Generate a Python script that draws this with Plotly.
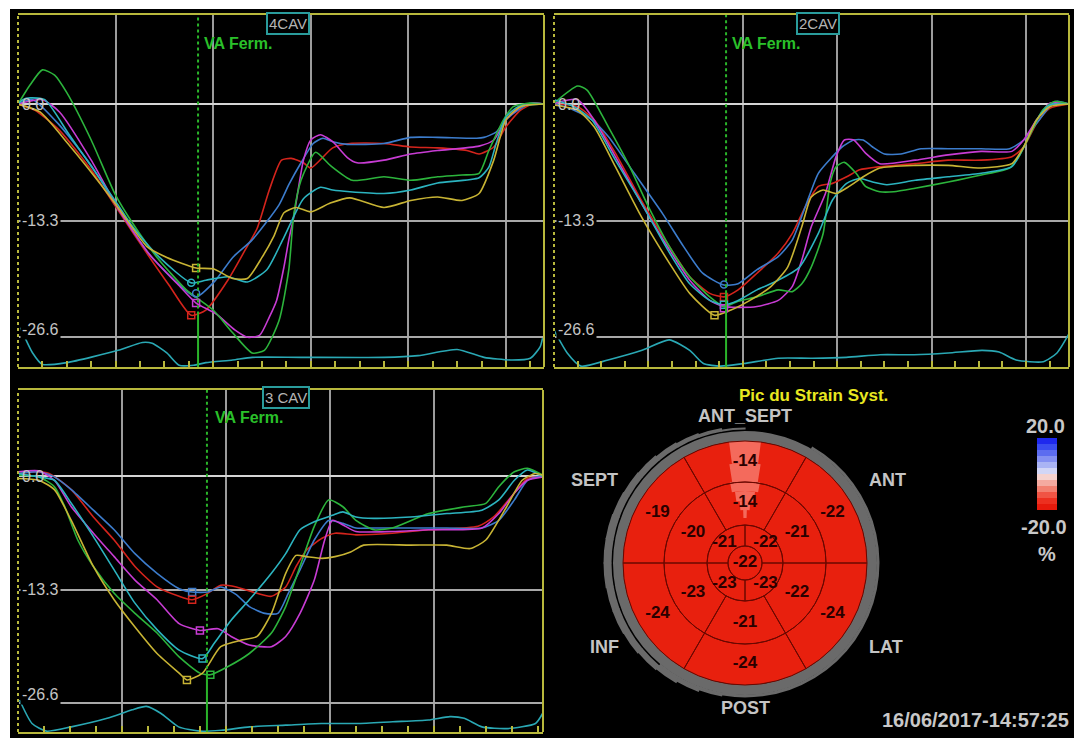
import plotly.graph_objects as go

W, H = 1074, 738
FONT = "Liberation Sans, Arial, sans-serif"

# ---------- strain curves: (time in frame ticks, longitudinal strain %) ----------
# 4 chamber view
cav4_red = [(0, 0), (0.7, -0.7), (1.7, -3.0), (3.0, -7.5), (4.1, -12.1), (5.2, -16.7), (6.2, -20.7),
            (7.1, -24.1), (7.7, -23.5), (8.6, -20.1), (9.3, -16.7), (9.8, -14.2), (10.3, -9.8),
            (10.8, -6.4), (11.2, -6.2), (11.7, -6.7), (12.0, -7.3), (12.9, -5.0), (13.6, -4.5),
            (15.0, -4.5), (16.1, -4.9), (17.2, -5.0), (18.4, -5.3), (18.9, -5.7), (19.5, -4.9),
            (20.0, -2.6), (20.6, -0.7), (21.1, 0), (21.56, 0)]
cav4_blue = [(0, 0), (0.6, 0.5), (1.7, -2.4), (3.0, -7.0), (4.1, -11.9), (5.4, -17.2), (6.4, -20.1),
             (7.3, -22.0), (8.1, -20.1), (8.8, -17.5), (9.6, -15.5), (10.7, -11.5), (11.1, -9.2),
             (11.6, -6.7), (12.1, -4.5), (12.5, -3.9), (12.9, -4.3), (13.5, -4.6), (15.0, -4.5),
             (16.1, -3.8), (17.2, -3.8), (18.8, -3.9), (19.1, -3.8), (19.6, -3.2), (20.0, -1.8),
             (20.5, -0.7), (21.0, 0.1), (21.56, 0)]
cav4_magenta = [(0, 0), (1.0, 0.5), (1.7, -0.9), (3.0, -6.4), (4.1, -11.9), (5.4, -17.2), (6.6, -20.7),
                (7.3, -22.7), (8.1, -23.9), (8.9, -25.8), (9.4, -26.6), (9.9, -26.4), (10.3, -24.3),
                (10.6, -22.4), (10.9, -18.6), (11.1, -15.5), (11.3, -12.9), (11.7, -6.4), (12.0, -4.1),
                (12.4, -3.5), (12.9, -4.3), (13.5, -6.1), (13.9, -6.7), (15.0, -6.4), (16.1, -5.7),
                (17.2, -5.3), (18.9, -4.8), (19.5, -4.1), (20.0, -1.8), (20.6, -0.3), (21.1, 0.1), (21.56, 0)]
cav4_green = [(0, 0), (0.5, 2.2), (1.0, 3.9), (1.5, 3.3), (2.0, 1.3), (3.0, -4.1), (4.0, -10.4),
              (4.7, -13.6), (5.7, -17.5), (6.9, -21.2), (8.0, -23.5), (8.8, -26.1), (9.6, -28.4),
              (10.1, -28.1), (10.7, -24.7), (11.1, -18.9), (11.3, -12.7), (11.6, -8.7), (12.2, -5.5),
              (12.8, -7.0), (13.7, -8.7), (15.0, -8.3), (16.1, -8.7), (17.2, -8.3), (18.2, -8.1),
              (18.9, -7.9), (19.3, -5.3), (19.9, -1.8), (20.3, -0.3), (20.9, 0.1), (21.56, 0)]
cav4_cyan = [(0, 0), (0.2, 0.5), (0.5, 0.7), (1.1, 0.5), (2.1, -3.5), (3.4, -8.7), (4.1, -11.5),
             (4.7, -14.0), (5.8, -17.5), (7.1, -20.4), (7.7, -20.1), (8.6, -19.7), (9.4, -20.3),
             (10.2, -18.9), (10.9, -15.2), (11.7, -10.8), (12.4, -9.5), (12.9, -9.8), (13.6, -10.0),
             (15.0, -10.2), (16.1, -9.8), (17.2, -9.0), (18.9, -8.4), (19.3, -7.2), (19.6, -4.5),
             (20.0, -1.5), (20.5, -0.3), (21.56, 0)]
cav4_yellow = [(0, 0), (0.9, -0.9), (2.1, -4.7), (3.4, -9.2), (4.1, -11.8), (5.3, -16.3), (6.1, -17.5),
               (7.3, -18.7), (8.0, -18.8), (8.8, -19.9), (9.4, -19.9), (10.0, -17.5), (10.5, -15.0),
               (10.9, -12.4), (11.4, -11.8), (12.0, -12.3), (12.8, -11.3), (13.6, -10.7), (15.0, -11.8),
               (16.1, -11.0), (17.2, -10.6), (18.2, -11.0), (18.9, -10.2), (19.5, -6.4), (20.0, -1.8),
               (20.6, -0.3), (21.56, 0)]
cav4_ecg = [(0.1, -25.5), (0.6, -28.4), (1.0, -29.7), (2.0, -29.5), (4.1, -28.1), (5.1, -27.2),
            (5.5, -27.3), (6.1, -28.4), (6.6, -29.8), (7.2, -29.8), (7.7, -29.5), (8.8, -29.2),
            (9.6, -28.9), (11.6, -28.9), (15.0, -28.9), (16.4, -28.7), (18.0, -28.0), (19.1, -28.9),
            (20.2, -29.2), (21.0, -29.0), (21.4, -27.7), (21.5, -26.7)]
cav4_peaks = [("red", 7.1, -24.1, "square-open"), ("magenta", 7.3, -22.7, "square-open"),
              ("blue", 7.3, -21.6, "circle-open"), ("cyan", 7.1, -20.4, "circle-open"),
              ("yellow", 7.3, -18.7, "square-open")]

# 2 chamber view
cav2_red = [(0, 0), (1.0, -0.3), (1.7, -1.8), (2.6, -5.6), (3.7, -11.0), (4.9, -16.3), (5.75, -19.7),
            (6.6, -21.6), (7.2, -22.0), (7.8, -21.2), (8.6, -19.3), (9.5, -17.0), (10.1, -14.75),
            (10.65, -11.7), (11.2, -9.4), (11.8, -9.05), (12.4, -8.3), (12.95, -7.5), (13.8, -7.15),
            (15.3, -6.8), (16.7, -6.4), (18.1, -6.4), (19.4, -6.0), (19.9, -4.9), (20.45, -2.2),
            (21.0, -0.5), (21.82, 0)]
cav2_blue = [(0, 0.1), (0.85, -0.7), (1.6, -1.8), (2.3, -3.7), (3.4, -7.9), (4.6, -12.5), (5.5, -16.3),
             (6.3, -19.3), (7.2, -20.65), (7.8, -20.5), (8.6, -18.9), (9.5, -17.4), (10.1, -15.5),
             (10.65, -11.7), (11.2, -7.9), (11.8, -6.0), (12.2, -4.9), (12.7, -4.1), (13.1, -4.1),
             (13.5, -4.9), (14.0, -5.7), (14.7, -5.7), (15.55, -5.1), (16.7, -5.1), (18.1, -5.1),
             (19.3, -5.1), (19.9, -4.1), (20.45, -2.2), (21.0, -0.3), (21.3, 0.3), (21.82, 0)]
cav2_magenta = [(0, 0.1), (1.0, 0.5), (1.7, -1.8), (2.6, -6.0), (3.7, -11.3), (4.9, -16.65), (5.75, -20.1),
                (6.6, -22.4), (7.2, -23.1), (7.8, -23.2), (8.6, -23.1), (9.5, -22.4), (10.1, -20.8),
                (10.5, -17.8), (10.9, -14.0), (11.5, -10.2), (11.95, -6.0), (12.3, -4.1), (12.7, -4.1),
                (13.2, -5.6), (13.8, -6.8), (15.3, -6.4), (16.7, -5.8), (18.1, -5.4), (19.4, -5.4),
                (19.9, -4.1), (20.45, -1.8), (21.0, 0.1), (21.82, 0)]
cav2_green = [(0, 0.1), (1.0, 2.05), (1.4, 1.6), (2.3, -2.6), (3.2, -7.1), (4.0, -11.7), (4.9, -16.3),
              (5.75, -19.7), (6.6, -22.0), (7.2, -23.1), (7.8, -22.5), (8.6, -22.0), (9.5, -21.2),
              (10.1, -21.4), (10.5, -20.5), (10.9, -18.6), (11.4, -14.8), (11.7, -9.0), (11.95, -7.15),
              (12.3, -6.65), (12.8, -7.9), (13.2, -9.4), (13.8, -10.0), (14.4, -10.0), (15.3, -9.6),
              (16.7, -8.9), (18.1, -8.1), (19.3, -7.3), (19.7, -6.0), (20.2, -3.35), (20.7, -0.7),
              (21.2, 0.3), (21.82, 0)]
cav2_cyan = [(0, 0.5), (0.85, -0.3), (1.6, -1.8), (2.6, -6.4), (3.7, -11.3), (4.9, -17.0), (5.75, -20.5),
             (6.6, -22.4), (7.2, -22.9), (7.8, -22.4), (8.6, -21.2), (9.5, -20.1), (10.4, -18.6),
             (11.2, -14.75), (11.8, -10.95), (12.4, -9.05), (12.95, -8.5), (13.5, -8.9), (14.1, -9.2),
             (15.3, -8.7), (16.7, -8.3), (18.1, -7.9), (19.4, -7.15), (19.9, -4.9), (20.45, -1.8),
             (21.0, -0.1), (21.82, 0)]
cav2_yellow = [(0, -0.1), (1.0, -0.7), (1.7, -2.6), (2.6, -7.15), (3.7, -12.85), (4.9, -18.2),
               (5.75, -21.6), (6.8, -24.1), (7.5, -23.5), (8.3, -22.4), (9.2, -20.8), (9.9, -18.6),
               (10.5, -14.0), (10.9, -10.6), (11.4, -9.8), (11.95, -10.2), (12.5, -9.4), (13.1, -8.3),
               (13.8, -7.3), (15.3, -7.0), (16.7, -7.0), (18.1, -7.3), (19.4, -6.8), (19.9, -4.9),
               (20.45, -1.8), (21.0, -0.3), (21.82, 0)]
cav2_ecg = [(0, -25.8), (0.56, -28.4), (1.14, -29.9), (2.29, -29.2), (3.73, -28.1), (4.88, -26.9),
            (5.75, -28.1), (6.33, -29.6), (7.05, -29.9), (8.05, -29.6), (9.5, -29.0), (10.94, -29.0),
            (12.38, -28.9), (13.82, -28.6), (15.26, -28.6), (16.7, -28.4), (18.14, -28.1),
            (18.86, -28.3), (19.58, -29.2), (20.73, -29.4), (21.31, -28.4), (21.82, -26.2)]
cav2_peaks = [("blue", 7.2, -20.6, "circle-open"), ("red", 7.2, -22.0, "square-open"),
              ("cyan", 7.2, -22.9, "square-open"), ("magenta", 7.2, -23.3, "square-open"),
              ("yellow", 6.8, -24.1, "square-open")]

# 3 chamber view
cav3_red = [(0, 0.3), (0.7, 0.5), (1.2, 0.3), (2.05, -1.6), (2.9, -4.8), (3.7, -7.5), (4.5, -10.6),
            (5.35, -13.0), (6.2, -14.1), (6.7, -14.5), (7.3, -13.75), (7.8, -12.8), (8.4, -13.0),
            (9.2, -13.75), (9.75, -14.1), (10.3, -13.0), (10.7, -10.6), (11.1, -8.7), (11.7, -7.3),
            (12.2, -6.7), (13.0, -6.9), (14.4, -6.7), (15.8, -6.3), (17.7, -5.9), (18.3, -4.8),
            (19.1, -2.0), (19.6, -0.3), (20.2, -0.1)]
cav3_blue = [(0, 0.3), (0.8, 0.5), (1.4, -0.1), (2.05, -1.6), (2.9, -4.0), (3.7, -6.3), (4.5, -9.1),
             (5.35, -11.4), (6.2, -13.2), (6.7, -13.6), (7.3, -13.6), (7.8, -13.0), (8.4, -13.9),
             (8.9, -15.3), (9.5, -16.1), (10.0, -16.1), (10.4, -13.75), (10.85, -11.0), (11.4, -7.5),
             (11.95, -5.2), (12.5, -5.55), (13.0, -6.1), (13.7, -6.1), (15.1, -6.1), (16.5, -6.1),
             (17.85, -6.1), (18.5, -5.2), (19.1, -2.8), (19.6, -0.5), (20.2, 0.1)]
cav3_magenta = [(0, 0.5), (0.8, 0.6), (1.4, -0.5), (2.05, -3.6), (2.9, -6.7), (3.7, -9.45), (4.5, -12.2),
                (5.35, -14.5), (6.2, -17.3), (7.0, -18.1), (7.7, -17.9), (8.2, -18.8), (8.9, -19.8),
                (9.75, -20.0), (10.3, -18.8), (10.85, -16.1), (11.4, -12.2), (11.8, -7.5), (12.1, -5.2),
                (12.6, -5.9), (13.0, -6.5), (14.4, -6.5), (15.8, -6.3), (17.85, -6.1), (18.5, -4.4),
                (19.1, -2.0), (19.6, -0.5), (20.2, -0.1)]
cav3_green = [(0, 0.1), (0.8, -0.1), (1.4, -1.25), (1.8, -3.6), (2.3, -7.5), (2.9, -10.6), (3.7, -13.75),
              (4.5, -16.1), (5.35, -18.4), (6.2, -21.2), (7.0, -23.1), (7.4, -23.3), (8.1, -22.3),
              (8.9, -20.8), (9.75, -18.4), (10.3, -15.3), (10.85, -10.6), (11.4, -5.9), (11.95, -2.8),
              (12.5, -3.6), (13.0, -5.2), (13.7, -6.3), (14.4, -6.1), (15.8, -4.4), (17.2, -3.6),
              (18.0, -3.2), (18.5, -1.25), (19.1, 0.5), (19.6, 0.9), (20.2, 0.1)]
cav3_cyan = [(0, 0.3), (0.8, -0.1), (1.4, -0.5), (2.05, -3.2), (2.9, -7.1), (3.7, -11.0), (4.5, -14.9),
             (5.35, -18.0), (6.2, -20.4), (7.1, -21.4), (7.55, -19.6), (8.2, -16.9), (8.9, -14.5),
             (9.75, -11.4), (10.3, -9.1), (10.85, -6.3), (11.4, -5.35), (12.1, -4.6), (12.5, -4.2),
             (13.0, -4.8), (13.7, -4.96), (15.1, -4.8), (16.5, -4.4), (17.85, -4.0), (18.5, -2.8),
             (19.1, -0.5), (19.6, 0.7), (20.2, -0.1)]
cav3_yellow = [(0, -0.3), (0.8, -0.5), (1.4, -1.6), (2.05, -5.2), (2.9, -10.6), (3.7, -14.5), (4.5, -17.7),
               (5.35, -20.8), (6.2, -23.1), (6.5, -23.9), (7.1, -23.1), (7.8, -20.0), (8.65, -19.2),
               (9.2, -18.8), (9.75, -16.1), (10.3, -11.4), (10.7, -9.3), (11.1, -9.45), (11.7, -9.65),
               (12.2, -9.45), (12.8, -8.9), (13.3, -8.1), (15.1, -8.1), (16.5, -8.1), (17.4, -8.5),
               (18.0, -7.5), (18.8, -3.6), (19.4, -0.5), (19.9, 0.3), (20.2, 0.1)]
cav3_ecg = [(0.06, -26.25), (0.54, -29.0), (1.09, -29.9), (2.05, -29.4), (3.43, -28.4), (4.39, -27.4),
            (4.94, -27.0), (5.49, -27.8), (6.18, -29.4), (7.0, -29.9), (7.82, -29.8), (8.92, -29.4),
            (10.3, -29.2), (11.67, -29.0), (13.04, -29.0), (14.42, -28.8), (15.79, -28.6),
            (16.62, -28.2), (17.17, -28.4), (17.85, -29.4), (18.82, -29.6), (19.91, -29.0), (20.19, -27.8)]
cav3_peaks = [("blue", 6.7, -13.6, "square-open"), ("red", 6.7, -14.5, "square-open"),
              ("magenta", 7.0, -18.1, "square-open"), ("cyan", 7.1, -21.4, "square-open"),
              ("yellow", 6.5, -23.9, "square-open"), ("green", 7.4, -23.3, "square-open")]

view_names = ["4CAV", "2CAV", "3 CAV"]
va_close = [7.38, 7.29, 7.27]          # aortic valve closure (frame ticks)
va_solid_from = [-24.0, -21.6, -23.3]  # strain where the marker becomes solid
strain_ticks = [0.0, -13.3, -26.6]
strain_labels = ["0.0", "-13.3", "-26.6"]

# ---------- bull's eye (peak systolic strain %) ----------
seg_basal_theta = [90, 30, -30, -90, -150, 150]
seg_basal_vals = [-14, -22, -24, -24, -24, -19]
seg_mid_vals = [-14, -21, -22, -21, -23, -20]
seg_apical_theta = [45, 135, 225, 315]
seg_apical_vals = [-22, -21, -23, -23]
seg_apex_val = -22
wall_names = ["ANT_SEPT", "SEPT", "ANT", "INF", "LAT", "POST"]

cbar_levels = [20, 16.36, 12.73, 9.09, 5.45, 1.82, -1.82, -5.45, -9.09, -12.73, -16.36, -20]
cbar_colors = ["#1e28ee", "#3a4cf0", "#5c6cf0", "#8490f2", "#aab4f4", "#d2d6f6",
               "#f6d2ce", "#f4aaa0", "#f28070", "#f05444", "#ec3020", "#e61a0c"]

# ---------- styling ----------
curve_colors = {"red": "#d4241c", "blue": "#3c7ccc", "magenta": "#c83cd4",
                "green": "#2cb43c", "cyan": "#2cb4c0", "yellow": "#c8b434"}
ecg_color = "#2aa8b4"
yellow = "#b8b83c"
va_green = "#2ab42a"
seg_red = "#e8200e"
seg_line = "#6a0800"
salmon = "#f46a5c"
ring_gray = "#6a6a6a"

frames = [
    dict(x0=18, x1=544, y0=15, y1=367, tmax=21.56, smin=-30.0, smax=10.16, box=(288, 24), va_txt=(202, 43)),
    dict(x0=554, x1=1069, y0=15, y1=367, tmax=21.82, smin=-30.0, smax=10.16, box=(818, 24), va_txt=(730, 43)),
    dict(x0=18, x1=543, y0=390, y1=732, tmax=20.2, smin=-30.0, smax=10.08, box=(286, 397), va_txt=(213, 417)),
]
views = [
    ({"red": cav4_red, "blue": cav4_blue, "magenta": cav4_magenta, "green": cav4_green,
      "cyan": cav4_cyan, "yellow": cav4_yellow}, cav4_ecg, cav4_peaks),
    ({"red": cav2_red, "blue": cav2_blue, "magenta": cav2_magenta, "green": cav2_green,
      "cyan": cav2_cyan, "yellow": cav2_yellow}, cav2_ecg, cav2_peaks),
    ({"red": cav3_red, "blue": cav3_blue, "magenta": cav3_magenta, "green": cav3_green,
      "cyan": cav3_cyan, "yellow": cav3_yellow}, cav3_ecg, cav3_peaks),
]


def px(x):
    return x / W


def py(y):
    return 1 - y / H


def ann(text, x, y, size=16, color="#c8c8c8", bold=True, xanchor="center", **kw):
    return dict(text=text, x=px(x), y=py(y), xref="paper", yref="paper", showarrow=False,
                xanchor=xanchor, yanchor="middle",
                font=dict(family=FONT, size=size, color=color, weight="bold" if bold else "normal"), **kw)


fig = go.Figure()
annotations = []
shapes = [dict(type="rect", xref="paper", yref="paper", x0=px(10), x1=1, y0=0, y1=py(9),
               fillcolor="black", line=dict(width=0), layer="below")]
layout_axes = {}

for i, (fr, (curves, ecg, peaks)) in enumerate(zip(frames, views), start=1):
    sfx = "" if i == 1 else str(i)
    xa, ya = "x" + sfx, "y" + sfx

    fig.add_trace(go.Scatter(x=[p[0] for p in ecg], y=[p[1] for p in ecg], mode="lines",
                             line=dict(color=ecg_color, width=1.6, shape="spline", smoothing=0.6),
                             xaxis=xa, yaxis=ya, showlegend=False, hoverinfo="skip"))
    for cname, pts in curves.items():
        fig.add_trace(go.Scatter(x=[p[0] for p in pts], y=[p[1] for p in pts], mode="lines",
                                 line=dict(color=curve_colors[cname], width=1.6, shape="spline", smoothing=0.6),
                                 xaxis=xa, yaxis=ya, showlegend=False, hoverinfo="skip"))
    for cname, t, s, sym in peaks:
        fig.add_trace(go.Scatter(x=[t], y=[s], mode="markers",
                                 marker=dict(symbol=sym, size=7, color=curve_colors[cname], line=dict(width=1.5)),
                                 xaxis=xa, yaxis=ya, showlegend=False, hoverinfo="skip"))

    layout_axes["xaxis" + sfx] = dict(
        domain=[px(fr["x0"]), px(fr["x1"])], range=[0, fr["tmax"]], anchor=ya,
        tickmode="array", tickvals=[v for v in (4, 8, 12, 16, 20) if v < fr["tmax"] - 0.4],
        ticks="inside", ticklen=6, tickwidth=1.5, tickcolor=yellow, showticklabels=False,
        showgrid=True, gridcolor="#9c9c9c", gridwidth=1.5, zeroline=False,
        showline=True, linecolor=yellow, linewidth=2, mirror=True,
        minor=dict(dtick=1, tick0=0, ticks="inside", ticklen=6, tickwidth=1.5, tickcolor=yellow, showgrid=False))
    layout_axes["yaxis" + sfx] = dict(
        domain=[py(fr["y1"]), py(fr["y0"])], range=[fr["smin"], fr["smax"]], anchor=xa,
        tickmode="array", tickvals=strain_ticks[1:], showgrid=True, gridcolor="#a8a8a8", gridwidth=1.5,
        zeroline=True, zerolinecolor="#d4d4d4", zerolinewidth=2, showticklabels=False, ticks="",
        showline=False)

    # frame edges: dotted left, solid right
    shapes.append(dict(type="line", xref=xa + " domain", yref=ya + " domain", x0=0, x1=0, y0=0, y1=1,
                       line=dict(color="black", width=2)))
    shapes.append(dict(type="line", xref=xa + " domain", yref=ya + " domain", x0=0, x1=0, y0=0, y1=1,
                       line=dict(color=yellow, width=2, dash="dot")))
    shapes.append(dict(type="line", xref=xa + " domain", yref=ya + " domain", x0=1, x1=1, y0=0, y1=1,
                       line=dict(color=yellow, width=2)))
    # valve closure marker
    shapes.append(dict(type="line", xref=xa, yref=ya, x0=va_close[i - 1], x1=va_close[i - 1],
                       y0=va_solid_from[i - 1], y1=fr["smax"], line=dict(color=va_green, width=2, dash="dot")))
    shapes.append(dict(type="line", xref=xa, yref=ya, x0=va_close[i - 1], x1=va_close[i - 1],
                       y0=fr["smin"], y1=va_solid_from[i - 1], line=dict(color=va_green, width=2)))

    # strain tick labels inside the plot
    for val, lab in zip(strain_ticks, strain_labels):
        annotations.append(dict(text=lab, x=px(fr["x0"] + 2), y=val, xref="paper", yref=ya,
                                xanchor="left", yanchor="middle", showarrow=False,
                                yshift=8 if val < -20 else 0,
                                bgcolor="black" if val < 0 else None,
                                font=dict(family=FONT, size=16, color="#c4c4c4")))
    bx, by = fr["box"]
    annotations.append(ann(view_names[i - 1], bx, by, size=15, color="#b4b4b4", bold=False,
                           bgcolor="black", bordercolor="#2a9c9c", borderwidth=2, borderpad=1))
    vx, vy = fr["va_txt"]
    annotations.append(ann("VA Ferm.", vx, vy, size=16, color="#2ac02a", xanchor="left"))

# ---------- bull's eye ----------
mid_theta = seg_basal_theta
fig.add_trace(go.Barpolar(r=[10], base=[122], theta=[0], width=[360],
                          marker=dict(color=ring_gray, line=dict(width=0)), showlegend=False, hoverinfo="skip"))
# the lower / right part of the rim is slightly wider
fig.add_trace(go.Barpolar(r=[3], base=[131.5], theta=[-35], width=[190],
                          marker=dict(color=ring_gray, line=dict(width=0)), showlegend=False, hoverinfo="skip"))
crescent_theta = [95, 105, 115, 125, 135, 145, 155, 165, 175, 185, 195, 205, 215, 225, 235, 245, 255]
crescent_thick = [2, 3.5, 4.5, 5.5, 6.5, 7, 7.5, 8, 8, 8, 7.5, 7.5, 7, 6, 5, 3.5, 2]
fig.add_trace(go.Barpolar(r=crescent_thick, base=[133.5] * len(crescent_theta), theta=crescent_theta,
                          width=[10.5] * len(crescent_theta),
                          marker=dict(color=ring_gray, line=dict(width=0)), showlegend=False, hoverinfo="skip"))

seg_r = [41] * 6 + [43] * 6 + [21] * 4 + [17]
seg_base = [81] * 6 + [38] * 6 + [17] * 4 + [0]
seg_theta = seg_basal_theta + mid_theta + seg_apical_theta + [0]
seg_width = [60] * 12 + [90] * 4 + [360]
fig.add_trace(go.Barpolar(r=seg_r, base=seg_base, theta=seg_theta, width=seg_width,
                          marker=dict(color=seg_red, line=dict(width=0)), showlegend=False, hoverinfo="skip"))
# lighter anteroseptal strip (-14 %)
strip_base = [100, 81, 72, 62, 53, 45]
strip_thick = [22, 19, 10, 10, 9, 8]
strip_width = [15, 18, 21, 16, 10, 4]
fig.add_trace(go.Barpolar(r=strip_thick, base=strip_base, theta=[90] * len(strip_base), width=strip_width,
                          marker=dict(color=salmon, line=dict(width=0)), showlegend=False, hoverinfo="skip"))
fig.add_trace(go.Barpolar(r=seg_r, base=seg_base, theta=seg_theta, width=seg_width,
                          marker=dict(color="rgba(0,0,0,0)", line=dict(color=seg_line, width=1)),
                          showlegend=False, hoverinfo="skip"))
be_vals = seg_basal_vals + seg_mid_vals + seg_apical_vals + [seg_apex_val]
fig.add_trace(go.Scatterpolar(r=[101] * 6 + [60] * 6 + [29] * 4 + [0], theta=seg_theta[:16] + [0],
                              mode="text", text=[str(v) for v in be_vals],
                              textfont=dict(family=FONT, size=17, color="#2a0000", weight="bold"),
                              showlegend=False, hoverinfo="skip"))

cx, cy, rad = 745, 563, 150
polar = dict(domain=dict(x=[px(cx - rad), px(cx + rad)], y=[py(cy + rad), py(cy - rad)]),
             bgcolor="black", barmode="overlay",
             radialaxis=dict(visible=False, range=[0, rad]),
             angularaxis=dict(visible=False))

# colour scale
pairs = sorted(zip(cbar_levels, cbar_colors))
fig.add_trace(go.Heatmap(z=[[v] for v in cbar_levels], y=cbar_levels, x=[0],
                         colorscale=[[(v + 20) / 40, c] for v, c in pairs], zmin=-20, zmax=20,
                         showscale=False, xaxis="x4", yaxis="y4", hoverinfo="skip"))
layout_axes["xaxis4"] = dict(domain=[px(1037), px(1057)], visible=False, anchor="y4")
layout_axes["yaxis4"] = dict(domain=[py(510), py(438)], visible=False, anchor="x4")

annotations += [
    ann("Pic du Strain Syst.", 813, 395, size=17, color="#e8e820"),
    ann("20.0", 1045, 426, size=20),
    ann("-20.0", 1044, 527, size=20),
    ann("%", 1047, 554, size=20),
    ann("16/06/2017-14:57:25", 1071, 720, size=20, xanchor="right"),
]
wall_pos = [(745, 416), (594, 480), (887, 480), (604, 647), (886, 647), (745, 708)]
for name, (wx, wy) in zip(wall_names, wall_pos):
    annotations.append(ann(name, wx, wy, size=18, color="#c4c4c4"))

fig.update_layout(width=W, height=H, autosize=False, margin=dict(l=0, r=0, t=0, b=0),
                  paper_bgcolor="white", plot_bgcolor="black", polar=polar,
                  annotations=annotations, shapes=shapes, showlegend=False, **layout_axes)

fig.write_html("out.html", config={"displayModeBar": False},
               post_script="document.body.style.margin='0px';")
